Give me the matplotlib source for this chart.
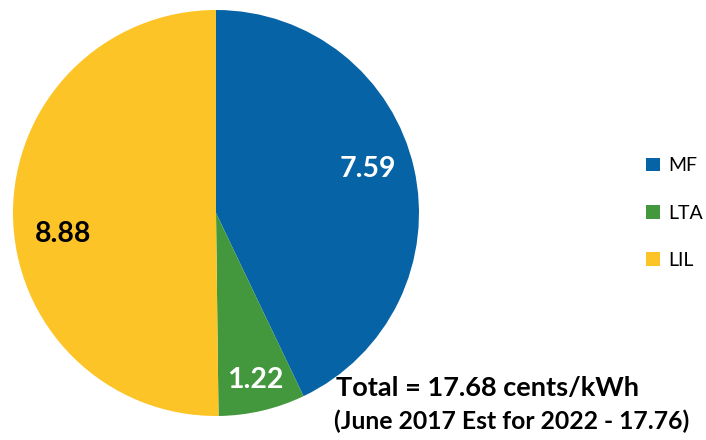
import matplotlib
matplotlib.use("Agg")
import matplotlib.pyplot as plt
import numpy as np

categories = ["MF", "LTA", "LIL"]
values = [7.59, 1.22, 8.88]
value_labels = ["7.59", "1.22", "8.88"]
colors = ["#0563A6", "#43983D", "#FDC427"]
label_colors = ["white", "white", "black"]
total_line = "Total = 17.68 cents/kWh"
note_line = "(June 2017 Est for 2022 - 17.76)"

plt.rcParams['font.family'] = ['Lato', 'DejaVu Sans']

fig = plt.figure(figsize=(7.06, 4.40), dpi=100)
ax = fig.add_axes([13/706, 24/440, 406/706, 406/440])
wedges, _ = ax.pie(values, colors=colors, startangle=90, counterclock=False,
                   radius=1.0, wedgeprops=dict(linewidth=0))
ax.set_xlim(-1, 1)
ax.set_ylim(-1, 1)
ax.set_axis_off()

dist = [0.78, 0.845, 0.76]
ang_off = [3.5, 0, 7.5]
for w, lab, c, d, o in zip(wedges, value_labels, label_colors, dist, ang_off):
    mid = np.deg2rad((w.theta1 + w.theta2) / 2 + o)
    ax.text(d * np.cos(mid), d * np.sin(mid), lab, ha='center', va='center',
            fontsize=20.5, fontweight='bold', color=c)

leg = fig.legend(wedges, categories, loc='center left',
                 bbox_to_anchor=(646/706, 1 - 213/440), frameon=False,
                 borderaxespad=0, borderpad=0,
                 fontsize=14, handlelength=0.72, handleheight=0.72,
                 handletextpad=0.45, labelspacing=1.55)

fig.text(336/706, 1 - 388/440, total_line, fontsize=19.5, fontweight='bold',
         ha='left', va='center')
fig.text(334/706, 1 - 421/440, note_line, fontsize=17.8, fontweight='bold',
         ha='left', va='center')

fig.savefig("out.png", dpi=100)
